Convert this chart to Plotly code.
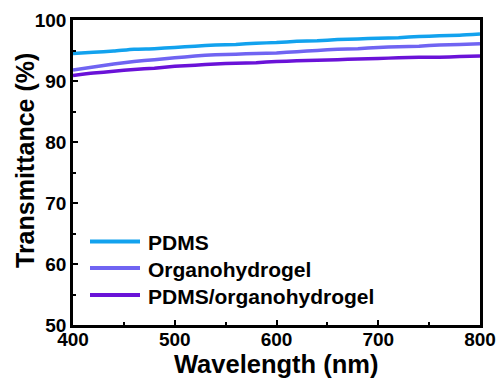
import plotly.graph_objects as go

wavelength = [400, 420, 440, 460, 480, 500, 520, 540, 560, 580, 600,
              620, 640, 660, 680, 700, 720, 740, 760, 780, 800]
pdms = [94.5, 94.7, 94.9, 95.2, 95.3, 95.5, 95.7, 95.9, 96.0, 96.2, 96.3,
        96.5, 96.6, 96.8, 96.9, 97.0, 97.1, 97.3, 97.4, 97.5, 97.7]
organo = [91.8, 92.3, 92.8, 93.2, 93.5, 93.8, 94.1, 94.3, 94.4, 94.5, 94.6,
          94.8, 95.0, 95.2, 95.3, 95.5, 95.6, 95.7, 95.9, 96.0, 96.1]
pdms_organo = [90.9, 91.3, 91.6, 91.9, 92.1, 92.4, 92.6, 92.8, 92.9, 93.0, 93.2,
               93.3, 93.4, 93.5, 93.6, 93.7, 93.8, 93.9, 93.9, 94.0, 94.1]

names = ["PDMS", "Organohydrogel", "PDMS/organohydrogel"]
colors = ["#12A2EE", "#7064F2", "#6A12D8"]
series = [pdms, organo, pdms_organo]

W, H = 500, 379
ML, MR, MT, MB = 73, 20, 20, 54
PW, PH = W - ML - MR, H - MT - MB

def px_x(p):
    return (p - ML) / PW

def px_y(p):
    return (H - MB - p) / PH

fig = go.Figure()
for name, ys, c in zip(names, series, colors):
    fig.add_trace(go.Scatter(x=wavelength, y=ys, mode="lines", name=name,
                             line=dict(color=c, width=3.5, shape="spline", smoothing=0.6)))

font_family = "Liberation Sans, Arial, sans-serif"
axis_common = dict(
    showline=True, linecolor="black", linewidth=2.5, mirror=True,
    ticks="inside", ticklen=5, tickwidth=2, tickcolor="black",
    showgrid=False, zeroline=False, automargin=False,
    tickfont=dict(family=font_family, size=19, color="black", weight="bold"),
)

# legend (custom, paper coordinates)
leg_rows = [241.5, 268, 295]
for name, c, ry in zip(names, colors, leg_rows):
    fig.add_shape(type="line", xref="paper", yref="paper",
                  x0=px_x(90), x1=px_x(140), y0=px_y(ry), y1=px_y(ry),
                  line=dict(color=c, width=4))
    fig.add_annotation(text=name, xref="paper", yref="paper",
                       x=px_x(146), y=px_y(ry + 1), xanchor="left", yanchor="middle",
                       showarrow=False,
                       font=dict(family=font_family, size=21, color="black", weight="bold"))

fig.add_annotation(text="Wavelength (nm)", xref="paper", yref="paper",
                   x=px_x(276), y=px_y(364), xanchor="center", yanchor="middle",
                   showarrow=False,
                   font=dict(family=font_family, size=25.5, color="black", weight="bold"))
fig.add_annotation(text="Transmittance (%)", xref="paper", yref="paper",
                   x=px_x(25), y=px_y(161), xanchor="center", yanchor="middle",
                   textangle=-90, showarrow=False,
                   font=dict(family=font_family, size=25, color="black", weight="bold"))

fig.update_layout(
    width=W, height=H,
    margin=dict(l=ML, r=MR, t=MT, b=MB),
    paper_bgcolor="white", plot_bgcolor="white",
    font=dict(family=font_family, color="black"),
    showlegend=False,
    xaxis=dict(range=[400, 800], dtick=100, tick0=400, ticklabelstandoff=-5,
               minor=dict(dtick=50, ticks="inside", ticklen=3, tickwidth=2, tickcolor="black"),
               **axis_common),
    yaxis=dict(range=[50, 100], dtick=10, tick0=50,
               minor=dict(dtick=5, ticks="inside", ticklen=3, tickwidth=2, tickcolor="black"),
               **axis_common),
)

fig.write_html("out.html")
